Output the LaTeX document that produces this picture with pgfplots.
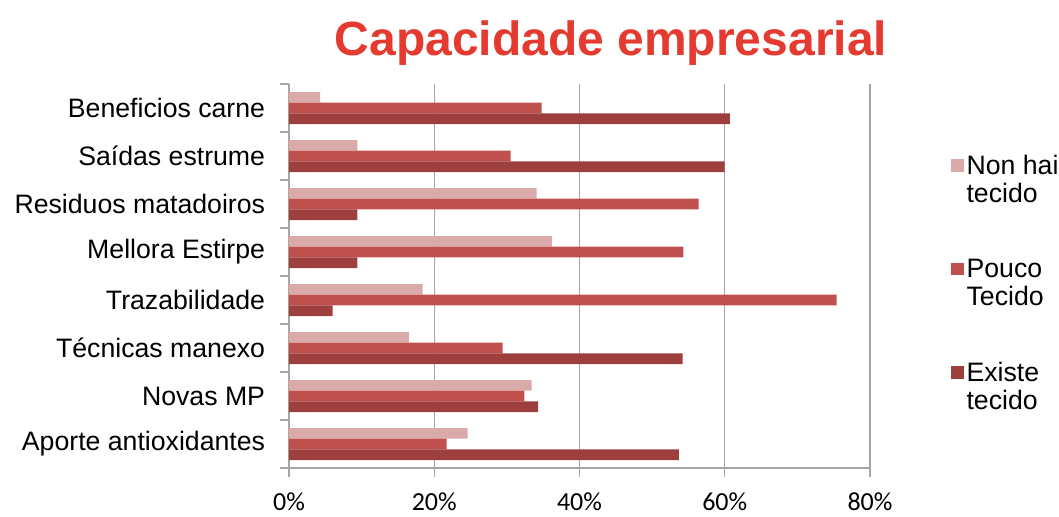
\documentclass[border=0pt]{standalone}
\usepackage{pgfplots}
\pgfplotsset{compat=1.18}
\usepackage{fontspec}
\setmainfont{Liberation Sans}
\newfontfamily\tickfont{Carlito}
\definecolor{nonhai}{HTML}{DAA9A9}
\definecolor{pouco}{HTML}{C0504D}
\definecolor{existe}{HTML}{9D3F3D}
\definecolor{titlered}{HTML}{E53A2F}
\definecolor{gridgray}{HTML}{A6A6A6}

\begin{document}
\begin{tikzpicture}
\useasboundingbox (-216.75pt,-36.75pt) rectangle (577.5pt,351pt);
\node[font=\bfseries\fontsize{36}{40}\selectfont, text=titlered, anchor=base] at (241.5pt,309pt) {Capacidade empresarial};
\begin{axis}[
  xbar, bar width=8pt,
  scale only axis, width=435.75pt, height=288pt,
  xmin=0, xmax=80, ymin=-0.5, ymax=7.5,
  axis lines*=left, axis line style={-, gridgray, line width=1pt},
  xtick={0,20,40,60,80},
  xticklabels={0\%,20\%,40\%,60\%,80\%},
  xticklabel style={font=\tickfont\fontsize{19.5}{22}\selectfont, yshift=-8pt},
  xmajorgrids, grid style={gridgray, line width=1pt},
  ytick={-0.5,0.5,...,7.5},
  y tick label as interval,
  yticklabels={Aporte antioxidantes, Novas MP, Técnicas manexo, Trazabilidade,
    {Mellora Estirpe\hspace{5pt}}, Residuos matadoiros, Saídas estrume, {Beneficios carne\hspace{5pt}}},
  yticklabel style={font=\fontsize{20}{24}\selectfont, inner sep=0pt, xshift=-11pt},
  tick align=outside, major tick length=6.75pt,
  tick style={draw=gridgray, line width=1pt},
  legend cell align=left,
  legend style={at={(1.1325,0.828)}, anchor=north west, draw=none,
    font=\fontsize{20}{21}\selectfont, cells={align=left}, row sep=37pt,
    /tikz/every even column/.append style={column sep=4pt}},
  legend image code/.code={\fill[#1] (0pt,6.25pt) rectangle (9.5pt,15.75pt);},
]
\addplot[fill=nonhai, draw=none, bar shift=8pt] coordinates
  {(24.6,0) (33.4,1) (16.5,2) (18.4,3) (36.2,4) (34.1,5) (9.4,6) (4.3,7)};
\addplot[fill=pouco, draw=none, bar shift=0pt] coordinates
  {(21.7,0) (32.4,1) (29.4,2) (75.4,3) (54.3,4) (56.4,5) (30.5,6) (34.8,7)};
\addplot[fill=existe, draw=none, bar shift=-8pt] coordinates
  {(53.7,0) (34.3,1) (54.2,2) (6.0,3) (9.4,4) (9.4,5) (60.0,6) (60.7,7)};
\addlegendentry{Non hai\\tecido}
\addlegendentry{Pouco\\Tecido}
\addlegendentry{Existe\\tecido}
\end{axis}
\end{tikzpicture}
\end{document}
